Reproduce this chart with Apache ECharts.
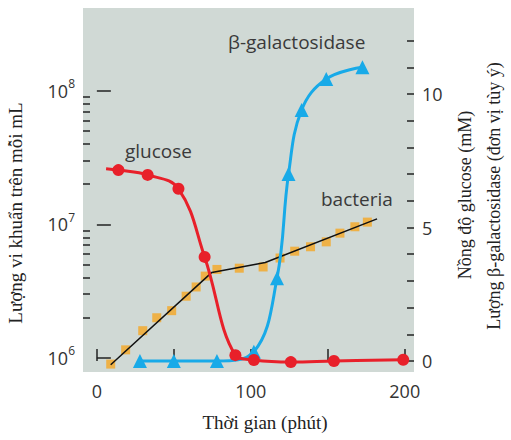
<!DOCTYPE html>
<html>
<head>
<meta charset="utf-8">
<script src="https://cdn.jsdelivr.net/npm/echarts@6/dist/echarts.min.js"></script>
<style>
  html, body { margin: 0; padding: 0; background: #fff; }
  #chart { width: 511px; height: 440px; }
</style>
</head>
<body>
<div id="chart"></div>
<script>
(function() {
  // time (min), glucose (mM)
  var glucoseT = [6, 14, 33, 53, 70, 90, 102, 126, 154, 199];
  var glucoseV = [7.2, 7.15, 6.97, 6.45, 3.9, 0.22, 0.04, -0.04, 0, 0.05];
  // time (min), beta-galactosidase (arbitrary units)
  var galT = [28, 50, 78, 102, 117, 124.5, 133, 149, 172.5];
  var galV = [0, 0, 0, 0.35, 3.1, 7.0, 9.4, 10.56, 11.0];
  // time (min), bacteria per mL
  var bactT = [9, 18.7, 29.8, 38.9, 48.6, 58, 64.5, 70.4, 78, 92.5, 108, 119, 128.5, 138.8, 149, 157.9, 167.6, 175.7];
  var bactV = [9.0e5, 1.15e6, 1.6e6, 2.0e6, 2.26e6, 2.9e6, 3.4e6, 4.1e6, 4.6e6, 4.7e6, 4.8e6, 5.6e6, 6.3e6, 6.8e6, 7.4e6, 8.6e6, 9.6e6, 1.04e7];
  // fitted growth line (piecewise)
  var fitT = [9, 74.7, 109.4, 182];
  var fitV = [8.9e5, 4.37e6, 5.18e6, 1.1e7];

  var xTicks = [0, 50, 100, 150, 200];
  var xLabels = [0, 100, 200];
  var logMajor = [1e6, 1e7, 1e8];
  var logMinor = [2e6, 3e6, 4e6, 5e6, 6e6, 7e6, 8e6, 9e6, 2e7, 3e7, 4e7, 5e7, 6e7, 7e7, 8e7, 9e7];
  var rightTicks = [0, 1, 2, 3, 4, 5, 6, 7, 8, 9, 10, 11, 12];
  var rightLabels = [0, 5, 10];

  function zip(a, b) {
    return a.map(function(v, i) { return [v, b[i]]; });
  }

  var red = '#e8202a';
  var blue = '#18aae8';
  var orange = '#f5a623';
  var ink = '#333';
  var sans = 'Open Sans';
  var serif = 'Liberation Serif';

  var chart = echarts.init(document.getElementById('chart'), null, { renderer: 'svg' });
  chart.setOption({
    animation: false,
    grid: {
      left: 83, right: 97, top: 8, bottom: 68,
      show: true, backgroundColor: '#d0d9d5', borderWidth: 0
    },
    xAxis: {
      type: 'value', min: -9, max: 206,
      axisLine: { show: false },
      axisTick: { inside: true, length: 12, customValues: xTicks, lineStyle: { color: '#222', width: 1.5 } },
      axisLabel: { customValues: xLabels, fontSize: 18, color: ink, fontFamily: sans, margin: 10 },
      splitLine: { show: false }
    },
    yAxis: [{
      type: 'log', min: 7.85e5, max: 4.17e8, position: 'left',
      axisLine: { show: false },
      axisTick: { inside: true, length: 14, customValues: logMajor, lineStyle: { color: '#222', width: 1.5 } },
      axisLabel: {
        customValues: logMajor, margin: 8, color: ink,
        formatter: function(v) { return '{b|10}{s|' + Math.round(Math.log10(v)) + '}'; },
        rich: {
          b: { fontSize: 18, fontFamily: sans, color: ink },
          s: { fontSize: 12, fontFamily: sans, color: ink, padding: [0, 0, 14, 0] }
        }
      },
      splitLine: { show: false }
    }, {
      type: 'log', min: 7.85e5, max: 4.17e8, position: 'left',
      axisLine: { show: false },
      axisTick: { inside: true, length: 7, customValues: logMinor, lineStyle: { color: '#222', width: 1.5 } },
      axisLabel: { show: false },
      splitLine: { show: false }
    }, {
      type: 'value', min: -0.41, max: 13.22, position: 'right',
      axisLine: { show: false },
      axisTick: { inside: true, length: 7, customValues: rightTicks, lineStyle: { color: '#222', width: 1.5 } },
      axisLabel: { customValues: rightLabels, fontSize: 18, color: ink, fontFamily: sans, margin: 8 },
      splitLine: { show: false }
    }],
    series: [{
      name: 'bacteria', type: 'scatter', yAxisIndex: 0,
      symbol: 'rect', symbolSize: 9,
      itemStyle: { color: orange },
      data: zip(bactT, bactV), z: 2
    }, {
      name: 'fit', type: 'line', yAxisIndex: 0,
      showSymbol: false, symbol: 'none',
      lineStyle: { color: '#111', width: 1.5 },
      data: zip(fitT, fitV), z: 3
    }, {
      name: 'β-galactosidase', type: 'line', yAxisIndex: 2,
      smooth: 0.4, symbol: 'triangle', symbolSize: 14,
      lineStyle: { color: blue, width: 3 },
      itemStyle: { color: blue },
      data: zip(galT, galV), z: 4
    }, {
      name: 'glucose', type: 'line', yAxisIndex: 2,
      smooth: 0.4, symbol: 'circle', symbolSize: 12,
      lineStyle: { color: red, width: 3 },
      itemStyle: { color: red },
      data: zip(glucoseT, glucoseV).map(function(p, i) {
        return i === 0 ? { value: p, symbol: 'none' } : p;
      }),
      z: 5
    }],
    graphic: [
      { type: 'text', left: 125, top: 141, style: { text: 'glucose', fontSize: 19, fontFamily: sans, fill: '#3a3a3a' } },
      { type: 'text', left: 228, top: 32, style: { text: 'β-galactosidase', fontSize: 19, fontFamily: sans, fill: '#3a3a3a' } },
      { type: 'text', left: 321, top: 189, style: { text: 'bacteria', fontSize: 19, fontFamily: sans, fill: '#3a3a3a' } },
      { type: 'text', x: 265, y: 422, style: { text: 'Thời gian (phút)', fontSize: 19, fontFamily: serif, fill: '#222', align: 'center', verticalAlign: 'middle' } },
      { type: 'text', x: 15, y: 213, rotation: Math.PI / 2, style: { text: 'Lượng vi khuẩn trên mỗi mL', fontSize: 19, fontFamily: serif, fill: '#222', align: 'center', verticalAlign: 'middle' } },
      { type: 'text', x: 465, y: 195, rotation: Math.PI / 2, style: { text: 'Nồng độ glucose (mM)', fontSize: 18, fontFamily: serif, fill: '#222', align: 'center', verticalAlign: 'middle' } },
      { type: 'text', x: 494, y: 196, rotation: Math.PI / 2, style: { text: 'Lượng β-galactosidase (đơn vị tùy ý)', fontSize: 18, fontFamily: serif, fill: '#222', align: 'center', verticalAlign: 'middle' } }
    ]
  });
  window.addEventListener('resize', function() { chart.resize(); });
})();
</script>
</body>
</html>
